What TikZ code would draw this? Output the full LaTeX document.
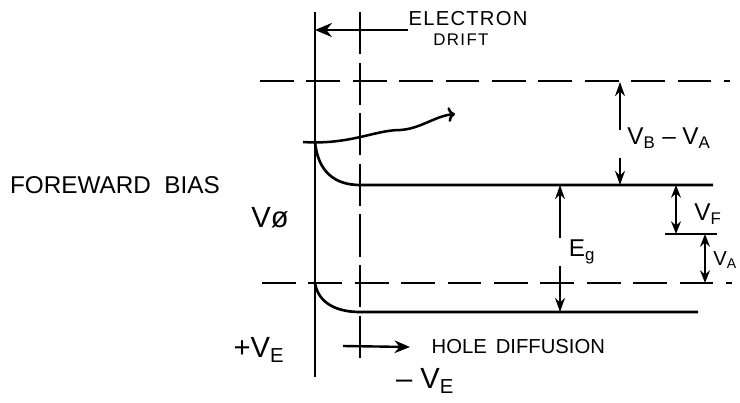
\documentclass[tikz,border=0pt]{standalone}
\usepackage{fontspec}
\setmainfont{Liberation Sans}
\usetikzlibrary{arrows.meta,positioning}
\tikzset{
  banda/.style={line width=1.9pt},
  nivel/.style={line width=1.5pt,dash pattern=on 24pt off 9pt},
  flecha/.style={-{Stealth[length=10pt,width=7pt]},line width=1.5pt},
  doble/.style={{Stealth[length=9pt,width=7pt]}-{Stealth[length=9pt,width=7pt]},line width=1.5pt},
  rotulo/.style={font=\Large,inner sep=1pt}
}

\begin{document}
\begin{tikzpicture}[x=0.025cm,y=-0.025cm]
\useasboundingbox (0,0) rectangle (740,402);
% union y limite de la zona
\coordinate (pa) at (315,12); \coordinate (pb) at (315,377);
\coordinate (na) at (360,12); \coordinate (nb) at (360,362);
\draw[banda] (pa) -- (pb);
\draw[line width=1.5pt,dash pattern=on 30pt off 6pt] (na) -- (nb);
% niveles a trazos
\coordinate (va) at (260,81); \coordinate (vb) at (730,81);
\coordinate (ca) at (262,283); \coordinate (cb) at (732,283);
\draw[nivel] (va) -- (vb);
\draw[nivel] (ca) -- (cb);
% bandas
\coordinate (b1) at (315,142); \coordinate (b2) at (360,185); \coordinate (b3) at (713,185);
\coordinate (c1) at (315,283); \coordinate (c2) at (360,312); \coordinate (c3) at (698,312);
\draw[banda] (b1) .. controls (318,172) and (335,185) .. (b2) -- (b3);
\draw[banda] (c1) .. controls (318,302) and (335,312) .. (c2) -- (c3);
% nivel de Fermi
\coordinate (f1) at (665,234); \coordinate (f2) at (717,234);
\draw[banda] (f1) -- (f2);
% deriva de electrones
\coordinate (ed) at (408,30);
\draw[-{Stealth[length=12pt,width=10pt]},line width=1.7pt] (ed) -- (ed -| pa);
\node[rotulo,font=\Large\addfontfeature{LetterSpace=6}] (electron) at (468,19) {ELECTRON};
\node[rotulo,font=\large\addfontfeature{LetterSpace=8},below=3pt of electron,xshift=-5pt] (drift) {DRIFT};
% trayectoria
\coordinate (w1) at (303,142); \coordinate (w2) at (455,114);
\draw[-{To[length=5pt]},line width=1.8pt] (w1) .. controls (350,145) and (375,130) .. (400,130)
  .. controls (420,129) and (435,116) .. (w2);
% cotas
\coordinate (e1) at (560,185); \coordinate (e2) at (560,312);
\coordinate (em1) at (560,238); \coordinate (em2) at (560,266);
\draw[flecha] (em1) -- (e1);
\draw[flecha] (em2) -- (e2);
\node[rotulo,font=\LARGE] (eg) at (582,252) {E\textsubscript{g}};
\coordinate (d1) at (620,82); \coordinate (d2) at (620,185);
\coordinate (dm1) at (620,130); \coordinate (dm2) at (620,158);
\draw[flecha] (dm1) -- (d1);
\draw[flecha] (dm2) -- (d2);
\node[rotulo,font=\LARGE] (vbva) at (669,138) {V\textsubscript{B} -- V\textsubscript{A}};
\coordinate (g1) at (676,185); \coordinate (g2) at (676,234);
\draw[doble] (g1) -- (g2);
\node[rotulo,font=\LARGE] (vf) at (708,214) {V\textsubscript{F}};
\coordinate (h1) at (705,234); \coordinate (h2) at (705,283);
\draw[doble] (h1) -- (h2);
\node[rotulo,anchor=west,inner sep=0pt] (va) at (713,260) {V\textsubscript{A}};
% difusion de huecos
\coordinate (hd) at (343,346);
\node[rotulo,anchor=west] (hole) at (430,347) {HOLE \,DIFFUSION};
\draw[-{Stealth[length=11pt,width=9pt]},line width=1.7pt] (hd) -- (hole.west -| 410,0);
% rotulos de la izquierda
\node[font=\LARGE,inner sep=1pt] (bias) at (115,185) {FOREWARD \ BIAS};
\node[font=\huge,inner sep=1pt] (vo) at (270,218) {Vø};
\node[font=\huge,inner sep=1pt] (vmas) at (259,350) {+V\textsubscript{E}};
\node[font=\huge,inner sep=0pt] (vmen) at (425,381) {-- V\textsubscript{E}};
\end{tikzpicture}
\end{document}
